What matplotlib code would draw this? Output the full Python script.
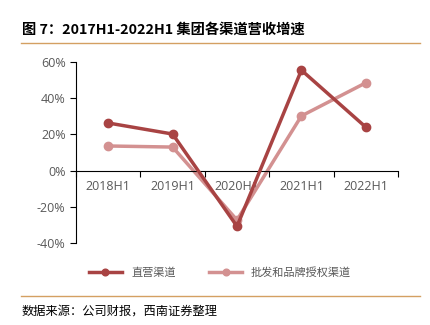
import numpy as np
import matplotlib.pyplot as plt
from matplotlib.lines import Line2D

plt.rcParams['font.family'] = ['Noto Sans CJK SC', 'DejaVu Sans']

# 数据
categorias = ['2018H1', '2019H1', '2020H1', '2021H1', '2022H1']
directo = [26.3, 20.2, -30.8, 55.5, 24.0]
mayorista = [13.6, 13.0, -27.3, 30.2, 48.5]
nombres = ['直营渠道', '批发和品牌授权渠道']

c_oscuro = '#A84343'
c_claro = '#D39191'
c_linea = '#D4A062'
c_texto = '#595959'

fig = plt.figure(figsize=(4.31, 3.25), dpi=100)
fig.text(22/431, 1 - 30/325, '图 7：2017H1-2022H1 集团各渠道营收增速',
         fontsize=10.3, fontweight='bold', va='center', ha='left')
fig.add_artist(Line2D([21/431, 420/431], [1 - 43/325] * 2, color=c_linea, lw=1))
fig.add_artist(Line2D([21/431, 420/431], [1 - 296/325] * 2, color=c_linea, lw=1))
fig.text(22/431, 1 - 311/325, '数据来源：公司财报，西南证券整理',
         fontsize=8.8, va='center', ha='left', style='italic')

ax = fig.add_axes([76/431, 1 - 243/325, 322/431, 181/325])
x = np.arange(len(categorias))
ax.plot(x, directo, color=c_oscuro, lw=2.5, marker='o', ms=6, label=nombres[0], zorder=3)
ax.plot(x, mayorista, color=c_claro, lw=2.5, marker='o', ms=6, label=nombres[1], zorder=2)

ax.set_xlim(-0.5, len(categorias) - 0.5)
ax.set_ylim(-40, 60)
ax.set_yticks(np.arange(-40, 61, 20))
ax.set_yticklabels([f'{v}%' for v in range(-40, 61, 20)])
ax.spines['top'].set_visible(False)
ax.spines['right'].set_visible(False)
ax.spines['bottom'].set_position(('data', 0))
ax.spines['left'].set_color('black')
ax.spines['bottom'].set_color('black')
ax.set_xticks(np.arange(-0.5, len(categorias), 1.0))
ax.set_xticklabels([])
ax.set_xticks(x, minor=True)
ax.set_xticklabels(categorias, minor=True)
ax.tick_params(axis='x', which='major', direction='out', length=4, color='black')
ax.tick_params(axis='x', which='minor', length=0, pad=7, labelsize=9, labelcolor=c_texto)
ax.tick_params(axis='y', direction='out', length=4, labelsize=9, labelcolor=c_texto)
for t in ax.get_xticklabels(minor=True) + ax.get_yticklabels():
    t.set_family(['Open Sans', 'DejaVu Sans'])

fig.legend(loc='center', bbox_to_anchor=(220/431, 1 - 272/325), ncol=2, frameon=False,
           fontsize=8, labelcolor=c_texto, handlelength=3, columnspacing=3, markerscale=0.8)

fig.savefig('out.png', dpi=100)
